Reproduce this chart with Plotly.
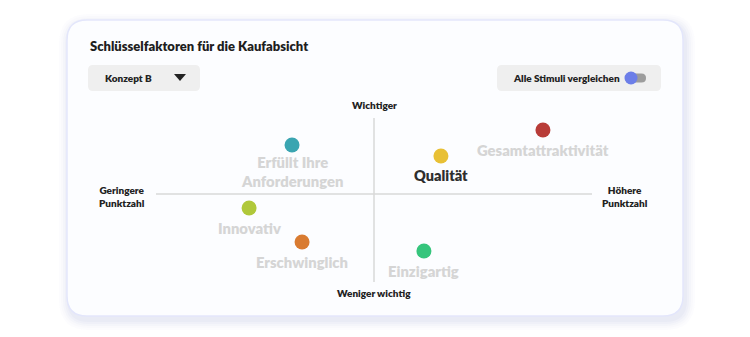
import plotly.graph_objects as go

# ---- data ----
factors = ["Erfüllt Ihre<br>Anforderungen", "Innovativ", "Erschwinglich",
           "Qualität", "Gesamtattraktivität", "Einzigartig"]
score = [-0.376, -0.573, -0.330, 0.307, 0.775, 0.229]        # x: Punktzahl
importance = [0.645, -0.184, -0.632, 0.50, 0.842, -0.75]     # y: Wichtigkeit
colors = ["#3aa5b1", "#b0c83a", "#d97b31", "#e8c035", "#b83c38", "#35c57c"]
highlight = [False, False, False, True, False, False]

W, H = 750, 337
FONT = "Lato"


def px(x):
    return x / W


def py(y):
    return 1 - y / H


def rrect(x0, y0, x1, y1, r):
    pts = [
        f"M {px(x0 + r)} {py(y0)}",
        f"L {px(x1 - r)} {py(y0)}",
        f"Q {px(x1)} {py(y0)} {px(x1)} {py(y0 + r)}",
        f"L {px(x1)} {py(y1 - r)}",
        f"Q {px(x1)} {py(y1)} {px(x1 - r)} {py(y1)}",
        f"L {px(x0 + r)} {py(y1)}",
        f"Q {px(x0)} {py(y1)} {px(x0)} {py(y1 - r)}",
        f"L {px(x0)} {py(y0 + r)}",
        f"Q {px(x0)} {py(y0)} {px(x0 + r)} {py(y0)}",
        "Z",
    ]
    return " ".join(pts)


shapes = []
for i, a in enumerate([0.02, 0.025, 0.03, 0.035, 0.04]):
    g = 10 - 2 * i
    shapes.append(dict(type="path", xref="paper", yref="paper", layer="below",
                       path=rrect(67 - g + 2, 20 - g + 4, 683 + g + 2, 316 + g + 4, 20 + g),
                       fillcolor=f"rgba(110,120,190,{a})", line=dict(width=0)))
shapes.append(dict(type="path", xref="paper", yref="paper", layer="below",
                   path=rrect(67, 20, 683, 316, 20),
                   fillcolor="#fcfdff", line=dict(color="#e3e6fb", width=1.5)))
shapes.append(dict(type="path", xref="paper", yref="paper", layer="below",
                   path=rrect(88, 65, 200, 91, 5),
                   fillcolor="#efefef", line=dict(width=0)))
shapes.append(dict(type="path", xref="paper", yref="paper",
                   path=f"M {px(174)} {py(74)} L {px(186)} {py(74)} L {px(180)} {py(81)} Z",
                   fillcolor="#222222", line=dict(width=0)))
shapes.append(dict(type="path", xref="paper", yref="paper", layer="below",
                   path=rrect(497, 65, 661, 91, 5),
                   fillcolor="#efefef", line=dict(width=0)))
shapes.append(dict(type="path", xref="paper", yref="paper",
                   path=rrect(625, 73.5, 646, 82.5, 4.5),
                   fillcolor="#9c9c9c", line=dict(width=0)))
shapes.append(dict(type="circle", xref="paper", yref="paper",
                   x0=px(624.5), x1=px(637.5), y0=py(84.5), y1=py(71.5),
                   fillcolor="#6c7ee8", line=dict(width=0)))
shapes.append(dict(type="line", xref="x", yref="y", x0=-1, x1=1, y0=0, y1=0,
                   line=dict(color="#d9d9d9", width=1.5), layer="below"))
shapes.append(dict(type="line", xref="x", yref="y", x0=0, x1=0, y0=-1.158, y1=1,
                   line=dict(color="#d9d9d9", width=1.5), layer="below"))

fig = go.Figure()
fig.add_trace(go.Scatter(
    x=score, y=importance, mode="markers",
    marker=dict(size=15, color=colors, line=dict(width=0)),
    hoverinfo="skip", showlegend=False))

annotations = []
for name, xv, yv, hl in zip(factors, score, importance, highlight):
    nlines = name.count("<br>") + 1
    annotations.append(dict(
        x=xv, y=yv, xref="x", yref="y", text=name, showarrow=False,
        xanchor="center", yanchor="top", yshift=-9 + 3 * (nlines - 1),
        font=dict(family=FONT, size=14.5 if hl else 14.8, weight=800,
                  color="#2e2e2e" if hl else "#d5d5d5")))

small = dict(family=FONT, size=10, color="#222222", weight=800)
annotations += [
    dict(x=px(88), y=py(46), xref="paper", yref="paper", xanchor="left", yanchor="middle",
         text="Schlüsselfaktoren für die Kaufabsicht", showarrow=False,
         font=dict(family=FONT, size=13, color="#1e1e1e", weight=800)),
    dict(x=px(103), y=py(78), xref="paper", yref="paper", xanchor="left", yanchor="middle",
         text="Konzept B", showarrow=False, font=small),
    dict(x=px(511), y=py(78), xref="paper", yref="paper", xanchor="left", yanchor="middle",
         text="Alle Stimuli vergleichen", showarrow=False, font=small),
    dict(x=px(374), y=py(105), xref="paper", yref="paper", xanchor="center", yanchor="middle",
         text="Wichtiger", showarrow=False, font=small),
    dict(x=px(374), y=py(293), xref="paper", yref="paper", xanchor="center", yanchor="middle",
         text="Weniger wichtig", showarrow=False, font=small),
    dict(x=px(122), y=py(196), xref="paper", yref="paper", xanchor="center", yanchor="middle",
         text="Geringere<br>Punktzahl", showarrow=False, font=small),
    dict(x=px(625), y=py(196), xref="paper", yref="paper", xanchor="center", yanchor="middle",
         text="Höhere<br>Punktzahl", showarrow=False, font=small),
]

fig.update_layout(
    width=W, height=H,
    margin=dict(l=0, r=0, t=0, b=0, pad=0),
    paper_bgcolor="#ffffff", plot_bgcolor="rgba(0,0,0,0)",
    xaxis=dict(domain=[px(156), px(592)], range=[-1, 1], visible=False, fixedrange=True),
    yaxis=dict(domain=[py(282), py(118)], range=[-1.158, 1], visible=False, fixedrange=True),
    shapes=shapes, annotations=annotations,
    font=dict(family=FONT),
)

fig.write_html("out.html")
